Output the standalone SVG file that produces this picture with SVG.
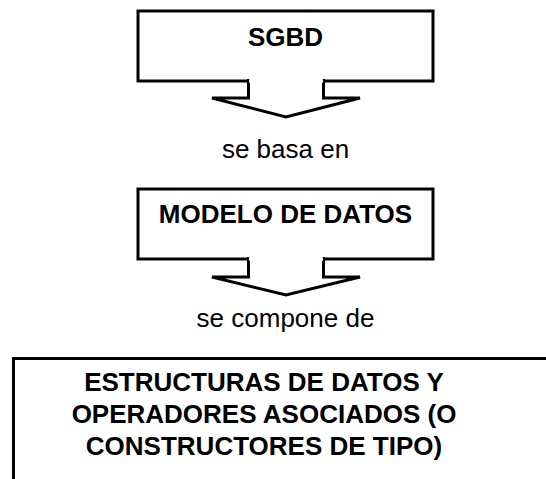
<svg xmlns="http://www.w3.org/2000/svg" width="546" height="479" viewBox="0 0 546 479">
<style>
.box{fill:#fff;stroke:#000;stroke-width:3}
.arrow{fill:#fff;stroke:#000;stroke-width:3;stroke-linejoin:miter}
.t{font-family:"Liberation Sans",Arial,sans-serif;font-size:26px;text-anchor:middle;fill:#000}
.b{font-weight:bold}
</style>
<rect width="546" height="479" fill="#fff"/>
<g id="node-sgbd">
<rect class="box" x="138" y="11" width="295" height="70"/>
<text class="t b" x="285.5" y="46">SGBD</text>
</g>
<g id="node-modelo">
<rect class="box" x="138" y="189" width="295" height="70"/>
<text class="t b" x="285.5" y="223">MODELO DE DATOS</text>
</g>
<g id="node-estructuras">
<rect class="box" x="13.5" y="358.5" width="560" height="140"/>
<text class="t b" x="264" y="391">ESTRUCTURAS DE DATOS Y</text>
<text class="t b" x="264" y="423">OPERADORES ASOCIADOS (O</text>
<text class="t b" x="264" y="455">CONSTRUCTORES DE TIPO)</text>
</g>
<g id="connectors">
<path class="arrow" d="M248.5,79 L248.5,98 L212,98 L286,117 L360,98 L323.5,98 L323.5,79"/>
<line x1="249" y1="81" x2="323" y2="81" stroke="#fff" stroke-width="3.5"/>
<text class="t" x="285.5" y="158">se basa en</text>
<path class="arrow" d="M248.5,257 L248.5,277 L212,277 L286,295 L360,277 L323.5,277 L323.5,257"/>
<line x1="249" y1="259" x2="323" y2="259" stroke="#fff" stroke-width="3.5"/>
<text class="t" x="285.5" y="327">se compone de</text>
</g>
</svg>
